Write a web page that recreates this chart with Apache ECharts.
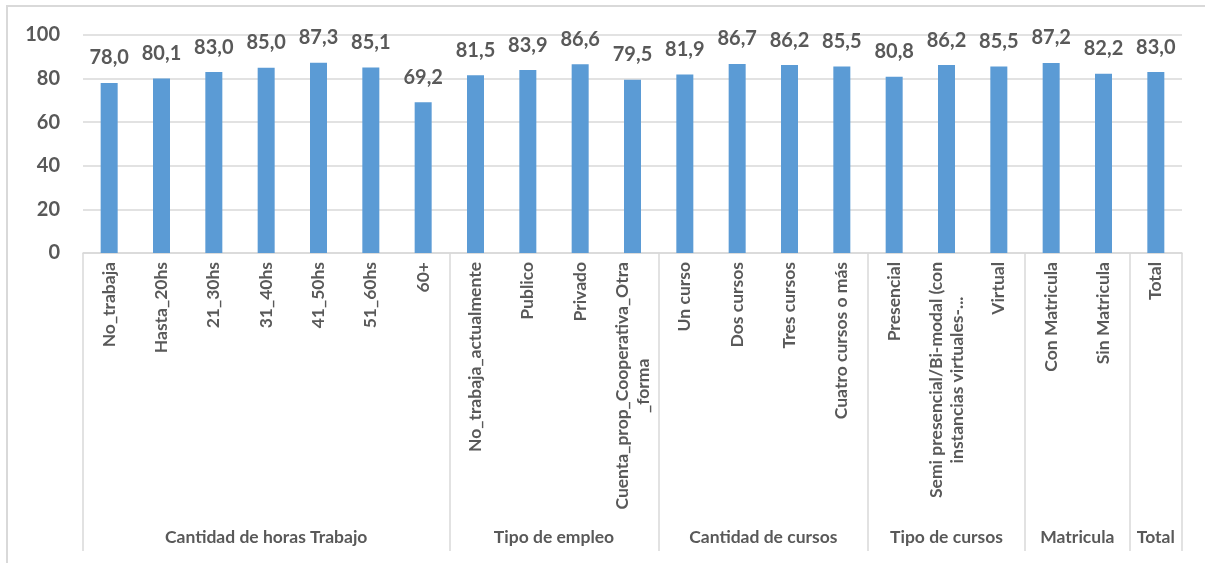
<!DOCTYPE html>
<html>
<head>
<meta charset="utf-8">
<script src="https://cdn.jsdelivr.net/npm/echarts@6/dist/echarts.min.js"></script>
<style>
  html, body { margin: 0; padding: 0; background: #fff; }
  #wrap { position: relative; width: 1205px; height: 563px; overflow: hidden; }
  #chart { width: 1205px; height: 563px; }
  #frame { position: absolute; left: 6px; top: 5px; width: 1220px; height: 600px;
           border: 2px solid #d9d9d9; box-sizing: border-box; pointer-events: none; }
</style>
</head>
<body>
<div id="wrap">
  <div id="chart"></div>
  <div id="frame"></div>
</div>
<script>
// categorias (nivel 1)
var categories = [
  'No_trabaja', 'Hasta_20hs', '21_30hs', '31_40hs', '41_50hs', '51_60hs', '60+',
  'No_trabaja_actualmente', 'Publico', 'Privado', 'Cuenta_prop_Cooperativa_Otra\n_forma',
  'Un curso', 'Dos cursos', 'Tres cursos', 'Cuatro cursos o más',
  'Presencial', 'Semi presencial/Bi-modal (con\ninstancias virtuales-...', 'Virtual',
  'Con Matricula', 'Sin Matricula',
  'Total'
]
// grupos (nivel 2)
var groupNames = ['Cantidad de horas Trabajo', 'Tipo de empleo', 'Cantidad de cursos', 'Tipo de cursos', 'Matricula', 'Total']
var groupSizes = [7, 4, 4, 3, 2, 1]
var values = [78.0, 80.1, 83.0, 85.0, 87.3, 85.1, 69.2, 81.5, 83.9, 86.6, 79.5, 81.9, 86.7, 86.2, 85.5, 80.8, 86.2, 85.5, 87.2, 82.2, 83.0]
var yTicks = [0, 20, 40, 60, 80, 100]

// eje de grupos: 2 puntos por categoria (boundaryGap false), los bordes en indices pares
var groupAxisData = []
var groupEdges = {}
for (var i = 0; i <= categories.length * 2; i++) groupAxisData.push('')
var start = 0
groupNames.forEach(function (name, k) {
  groupEdges[start * 2] = true
  groupAxisData[start * 2 + groupSizes[k]] = name
  start += groupSizes[k]
})
groupEdges[start * 2] = true

var gray = '#595959'
var font = 'Lato, "Open Sans", sans-serif'
var catSize = 17.5

var chart = echarts.init(document.getElementById('chart'))
chart.setOption({
  animation: false,
  grid: { left: 83, right: 23, top: 35, bottom: 310, containLabel: false },
  xAxis: [
    {
      type: 'category',
      data: categories,
      position: 'bottom',
      axisLine: { lineStyle: { color: '#d9d9d9', width: 1.5 } },
      axisTick: { show: false },
      axisLabel: {
        interval: 0,
        rotate: 90,
        margin: 9,
        color: gray,
        fontFamily: font,
        fontWeight: 'bold',
        fontSize: catSize,
        lineHeight: 21,
        // lineas centradas como en Excel
        formatter: function (v) {
          if (v.indexOf('\n') < 0) return v
          return v.split('\n').map(function (s) { return '{c|' + s + '}' }).join('\n')
        },
        rich: {
          c: {
            align: 'center',
            color: gray,
            fontFamily: font,
            fontWeight: 'bold',
            fontSize: catSize,
            lineHeight: 21
          }
        }
      }
    },
    {
      type: 'category',
      data: groupAxisData,
      position: 'bottom',
      boundaryGap: false,
      axisLine: { show: false },
      axisTick: {
        show: true,
        interval: function (idx) { return !!groupEdges[idx] },
        length: 298,
        lineStyle: { color: '#d9d9d9', width: 1.5 }
      },
      axisLabel: {
        interval: 0,
        margin: 275,
        color: gray,
        fontFamily: font,
        fontWeight: 'bold',
        fontSize: 17.5
      }
    }
  ],
  yAxis: {
    type: 'value',
    min: yTicks[0],
    max: yTicks[yTicks.length - 1],
    interval: 20,
    axisLine: { show: false },
    axisTick: { show: false },
    splitLine: { lineStyle: { color: '#d9d9d9', width: 1.5 } },
    axisLabel: {
      margin: 23,
      color: gray,
      fontFamily: font,
      fontWeight: 'bold',
      fontSize: 20
    }
  },
  series: [
    {
      type: 'bar',
      xAxisIndex: 0,
      data: values,
      barWidth: 17,
      itemStyle: { color: '#5b9bd5' },
      label: {
        show: true,
        position: 'top',
        distance: 15,
        color: gray,
        fontFamily: font,
        fontWeight: 'bold',
        fontSize: 20,
        formatter: function (p) { return p.value.toFixed(1).replace('.', ',') }
      }
    }
  ]
})
</script>
</body>
</html>
